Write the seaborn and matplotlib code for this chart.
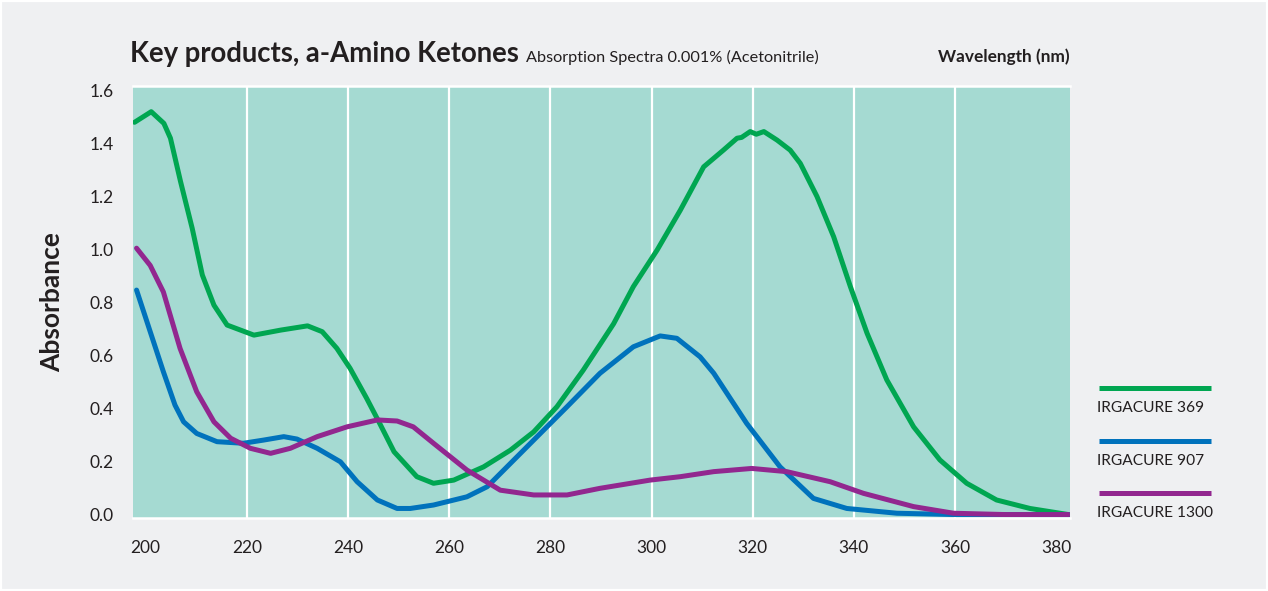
import pandas as pd
import matplotlib.pyplot as plt
import seaborn as sns
from matplotlib.lines import Line2D
from matplotlib.patches import Rectangle

# wavelength (nm) / absorbance
wl_369 = [197.8, 201.1, 203.6, 204.9, 206.9, 209.2, 211.2, 213.5, 216.1, 221.4, 226.7, 232.0,
          234.9, 237.8, 240.4, 243.7, 246.1, 249.1, 250.3, 253.6, 256.9, 260.9, 266.8, 272.1,
          276.7, 281.3, 286.5, 292.5, 296.4, 301.1, 305.7, 310.3, 314.2, 316.9, 317.8, 319.5,
          320.7, 322.2, 324.8, 327.4, 329.4, 332.7, 336.0, 339.3, 342.6, 346.5, 351.8, 357.0,
          362.3, 368.2, 374.8, 382.4]
abs_369 = [1.48, 1.52, 1.476, 1.42, 1.256, 1.08, 0.904, 0.79, 0.715, 0.677, 0.696, 0.712,
           0.69, 0.627, 0.552, 0.438, 0.35, 0.237, 0.212, 0.143, 0.118, 0.13, 0.18, 0.243,
           0.312, 0.407, 0.545, 0.72, 0.86, 0.998, 1.149, 1.312, 1.375, 1.42, 1.423, 1.445,
           1.435, 1.445, 1.413, 1.375, 1.325, 1.2, 1.048, 0.86, 0.684, 0.508, 0.331, 0.206,
           0.118, 0.055, 0.023, 0.0]

wl_907 = [198.2, 200.9, 203.5, 205.8, 207.5, 210.1, 214.1, 219.3, 223.3, 227.3, 229.9, 233.9,
          238.5, 241.8, 245.8, 249.7, 252.3, 256.9, 263.5, 267.5, 272.1, 276.7, 283.3, 289.8,
          296.4, 301.7, 305.0, 309.6, 312.3, 318.8, 325.4, 332.0, 338.6, 348.5, 360.0, 382.4]
abs_907 = [0.847, 0.69, 0.539, 0.413, 0.35, 0.306, 0.275, 0.269, 0.281, 0.294, 0.285, 0.25,
           0.199, 0.124, 0.055, 0.023, 0.023, 0.036, 0.067, 0.105, 0.193, 0.281, 0.407, 0.533,
           0.633, 0.674, 0.665, 0.595, 0.533, 0.344, 0.18, 0.061, 0.023, 0.005, 0.0, 0.0]

wl_1300 = [198.2, 200.9, 203.5, 206.8, 210.1, 213.5, 216.8, 220.7, 224.7, 228.6, 233.9, 239.8,
           245.8, 249.7, 252.9, 256.9, 263.5, 270.1, 276.7, 283.3, 289.8, 299.7, 305.7, 312.3,
           319.8, 326.7, 335.3, 341.9, 351.8, 359.7, 370.0, 382.4]
abs_1300 = [1.005, 0.94, 0.84, 0.627, 0.463, 0.35, 0.288, 0.25, 0.231, 0.25, 0.294, 0.331,
            0.357, 0.353, 0.331, 0.269, 0.168, 0.092, 0.074, 0.074, 0.099, 0.13, 0.143, 0.162,
            0.174, 0.162, 0.124, 0.08, 0.03, 0.005, 0.0, 0.0]

products = ['IRGACURE 369', 'IRGACURE 907', 'IRGACURE 1300']
colors = ['#00a651', '#0072bc', '#92278f']
y_ticks = [0.0, 0.2, 0.4, 0.6, 0.8, 1.0, 1.2, 1.4, 1.6]
x_ticks = [200, 220, 240, 260, 280, 300, 320, 340, 360, 380]
grid_x = [220, 240, 260, 280, 300, 320, 340, 360]

df = pd.concat([
    pd.DataFrame({'wl': wl_369, 'absorbance': abs_369, 'product': products[0]}),
    pd.DataFrame({'wl': wl_907, 'absorbance': abs_907, 'product': products[1]}),
    pd.DataFrame({'wl': wl_1300, 'absorbance': abs_1300, 'product': products[2]}),
])

sns.set_theme(style='white')
plt.rcParams['font.family'] = ['Lato', 'DejaVu Sans']
text_col = '#231f20'
bg = '#eff0f2'

fig = plt.figure(figsize=(12.68, 5.91), dpi=100, facecolor=bg)
ax = fig.add_axes([0.1049, 0.1235, 0.7389, 0.731])
ax.set_facecolor('#a5dad2')

sns.lineplot(data=df, x='wl', y='absorbance', hue='product', palette=colors,
             hue_order=products, estimator=None, sort=False, lw=3.6, ax=ax, legend=False,
             solid_joinstyle='round', solid_capstyle='round')

for gx in grid_x:
    ax.axvline(gx, color='white', lw=1.6, zorder=1)

ax.set_xlim(197.5, 382.7)
ax.set_ylim(-0.013, 1.617)
ax.set_xticks(x_ticks)
ax.set_yticks(y_ticks)
ax.set_yticklabels([f'{v:.1f}' for v in y_ticks])
ax.tick_params(length=0, labelsize=12.5, labelcolor=text_col)
ax.tick_params(axis='x', pad=16)
ax.tick_params(axis='y', pad=14)
for s in ['left', 'right']:
    ax.spines[s].set_visible(False)
for s in ['top', 'bottom']:
    ax.spines[s].set_color('white')
    ax.spines[s].set_linewidth(1.8)
ax.set_xlabel('')
ax.set_ylabel('Absorbance', fontsize=19, fontweight='bold', color=text_col, labelpad=18)

# titles
t = fig.text(130 / 1268, 1 - 62 / 591, 'Key products, a-Amino Ketones', fontsize=19.8,
             fontweight='bold', color=text_col, ha='left', va='baseline')
fig.canvas.draw()
bb = t.get_window_extent()
fig.text((bb.x1 + 7) / 1268, 1 - 62 / 591, 'Absorption Spectra 0.001% (Acetonitrile)',
         fontsize=11.7, color=text_col, ha='left', va='baseline')
fig.text(1070 / 1268, 1 - 62 / 591, 'Wavelength (nm)', fontsize=12.4, fontweight='bold',
         color=text_col, ha='right', va='baseline')

# legend on the right
for name, c, ly in zip(products, colors, [388, 441, 493]):
    fig.add_artist(Line2D([1099 / 1268, 1211 / 1268], [1 - ly / 591, 1 - ly / 591],
                          color=c, lw=3.6, solid_capstyle='butt'))
    fig.text(1097 / 1268, 1 - (ly + 20) / 591, name, fontsize=11.2, color=text_col,
             ha='left', va='center')

fig.add_artist(Rectangle((0, 0), 1, 1, transform=fig.transFigure, fill=False,
                         edgecolor='white', lw=3))

fig.savefig('out.png', dpi=100, facecolor=bg)
